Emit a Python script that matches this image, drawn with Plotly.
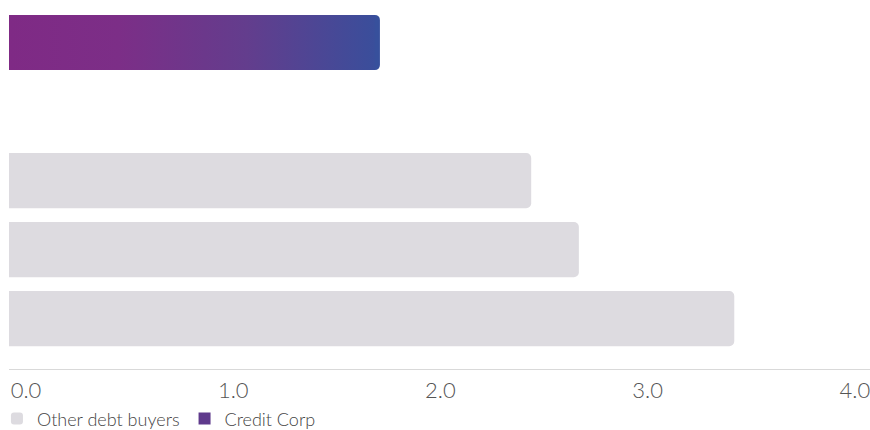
import plotly.graph_objects as go

categories = ["Credit Corp", "Gap", "Peer A", "Peer B", "Peer C"]
credit_corp = [1.79, None, None, None, None]
other_buyers = [None, None, 2.52, 2.75, 3.50]
tick_vals = [0, 1, 2, 3, 4]
tick_text = ["0.0", "1.0", "2.0", "3.0", "4.0"]

idx = list(range(len(categories)))
BAR_W = 0.8
GRAY = "#dddbe0"
PURPLE = "#7f2a85"
BLUE = "#37509c"
FONT = "Lato"

fig = go.Figure()

fig.add_trace(go.Bar(
    name="Other debt buyers", orientation="h",
    y=idx, x=other_buyers, width=BAR_W,
    marker=dict(color=GRAY, cornerradius=5, line=dict(width=0)),
    hoverinfo="skip",
))
# legend entry for Credit Corp
fig.add_trace(go.Bar(
    name="Credit Corp", orientation="h",
    y=idx, x=[None] * len(idx), width=BAR_W,
    marker=dict(color="#5f3a8c", line=dict(width=0)),
    hoverinfo="skip",
))
# Credit Corp bar (rounded end)
fig.add_trace(go.Bar(
    name="Credit Corp", orientation="h", showlegend=False,
    y=idx, x=credit_corp, width=BAR_W,
    marker=dict(color=BLUE, cornerradius=5, line=dict(width=0)),
    hoverinfo="skip",
))

# gradient overlay for Credit Corp bar
for i, v in zip(idx, credit_corp):
    if v is None:
        continue
    end = v - 0.025
    fig.add_trace(go.Scatter(
        x=[0, end, end, 0, 0],
        y=[i - BAR_W / 2, i - BAR_W / 2, i + BAR_W / 2, i + BAR_W / 2, i - BAR_W / 2],
        mode="lines", line=dict(width=0), fill="toself",
        fillgradient=dict(type="horizontal",
                          colorscale=[[0, PURPLE], [0.3, "#7c2e87"], [0.65, "#633d8d"], [1, "#3a4e9b"]]),
        showlegend=False, hoverinfo="skip",
    ))

fig.update_layout(
    width=870, height=430,
    margin=dict(l=9, r=0, t=8, b=61, autoexpand=False),
    paper_bgcolor="white", plot_bgcolor="white",
    barmode="overlay",
    font=dict(family=FONT, color="#4a4a4a"),
    showlegend=True,
    legend=dict(orientation="h", x=-0.014, xanchor="left",
                y=-0.087, yanchor="top",
                bgcolor="rgba(0,0,0,0)",
                font=dict(size=18, color="#444444", family=FONT, weight=300),
                itemsizing="constant", traceorder="normal", itemwidth=30),
    xaxis=dict(range=[0, 4.155], tickvals=tick_vals, ticktext=tick_text,
               showgrid=False, zeroline=False, showline=True,
               linecolor="#d9d9d9", linewidth=1, ticks="",
               tickfont=dict(size=22, color="#555555", family=FONT, weight=300),
               ticklabelshift=17, ticklabelstandoff=2, ticklabeloverflow="allow",
               fixedrange=True),
    yaxis=dict(range=[4.73, -0.5], showticklabels=False, showgrid=False,
               zeroline=False, showline=False, ticks="", fixedrange=True),
)

fig.write_html("out.html")
